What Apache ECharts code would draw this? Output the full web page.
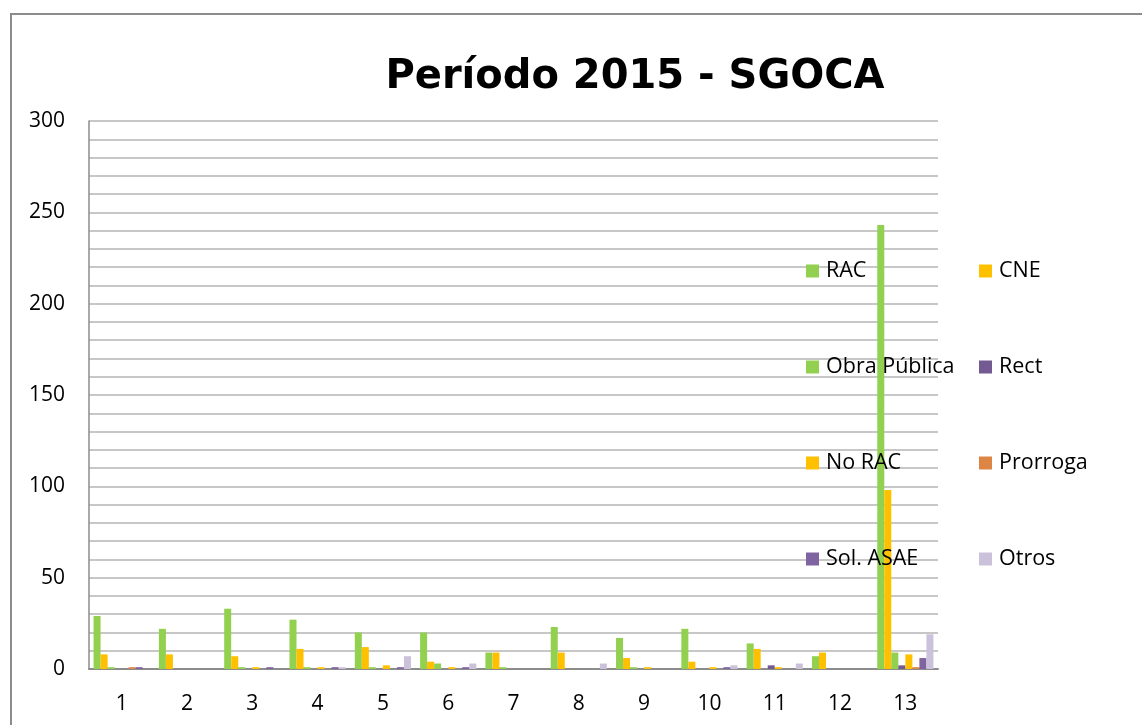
<!DOCTYPE html>
<html>
<head>
<meta charset="utf-8">
<script src="https://cdn.jsdelivr.net/npm/echarts@6/dist/echarts.min.js"></script>
<style>
html,body{margin:0;padding:0;background:#fff;}
#frame{position:absolute;left:10px;top:13px;width:1200px;height:800px;border-left:2px solid #8c8c8c;border-top:2px solid #8c8c8c;}
#chart{position:absolute;left:0;top:0;width:1142px;height:725px;}
</style>
</head>
<body>
<div id="frame"></div>
<div id="chart"></div>
<script>
const categories = ['1','2','3','4','5','6','7','8','9','10','11','12','13'];
const rac        = [29, 22, 33, 27, 20, 20, 9, 23, 17, 22, 14, 7, 243];
const cne        = [8, 8, 7, 11, 12, 4, 9, 9, 6, 4, 11, 9, 98];
const obraPublica= [1, 0, 1, 1, 1, 3, 1, 0, 1, 0, 0, 0, 9];
const rect       = [0, 0, 0, 0, 0, 0, 0, 0, 0, 0, 2, 0, 2];
const noRac      = [0, 0, 1, 1, 2, 1, 0, 0, 1, 1, 1, 0, 8];
const prorroga   = [1, 0, 0, 0, 0, 0, 0, 0, 0, 0, 0, 0, 1];
const solAsae    = [1, 0, 1, 1, 1, 1, 0, 0, 0, 1, 0, 0, 6];
const otros      = [0, 0, 0, 1, 7, 3, 0, 3, 0, 2, 3, 0, 19];
const yTicks = [0, 50, 100, 150, 200, 250, 300];

const seriesDefs = [
  ['RAC', rac, '#92D050'],
  ['CNE', cne, '#FFC000'],
  ['Obra Pública', obraPublica, '#92D050'],
  ['Rect', rect, '#745A93'],
  ['No RAC', noRac, '#FFC000'],
  ['Prorroga', prorroga, '#DD8544'],
  ['Sol. ASAE', solAsae, '#8064A2'],
  ['Otros', otros, '#CCC1DA']
];

const chart = echarts.init(document.getElementById('chart'), null, {renderer:'canvas'});
const font = '"Open Sans", "Liberation Sans", sans-serif';
const legendCommon = {
  orient: 'vertical',
  icon: 'rect',
  itemWidth: 13,
  itemHeight: 13,
  itemGap: 72,
  top: 259,
  padding: 0,
  selectedMode: false,
  textStyle: {fontFamily: font, fontSize: 21.5, color: '#000', lineHeight: 24, padding:[0,0,0,2]}
};
chart.setOption({
  animation: false,
  backgroundColor: 'transparent',
  title: {
    text: 'Período 2015 - SGOCA',
    left: 630, top: 53, textAlign: 'center',
    textStyle: {fontFamily: '"DejaVu Sans", sans-serif', fontWeight: 'bold', fontSize: 40, color: '#000'}
  },
  legend: [
    Object.assign({}, legendCommon, {left: 806, data: ['RAC','Obra Pública','No RAC','Sol. ASAE']}),
    Object.assign({}, legendCommon, {left: 979, data: ['CNE','Rect','Prorroga','Otros']})
  ],
  grid: {left: 89, right: 204, top: 121, bottom: 56, containLabel: false},
  xAxis: {
    type: 'category',
    data: categories,
    axisLine: {show: true, lineStyle: {color: '#8c8c8c', width: 2}},
    axisTick: {show: false},
    axisLabel: {fontFamily: font, fontSize: 21, color: '#000', margin: 25}
  },
  yAxis: {
    type: 'value',
    min: yTicks[0], max: yTicks[yTicks.length-1], interval: 50,
    axisLine: {show: true, lineStyle: {color: '#8c8c8c', width: 1.5}},
    axisTick: {show: false},
    axisLabel: {fontFamily: font, fontSize: 21, color: '#000', margin: 24},
    splitLine: {show: true, lineStyle: {color: '#b5b5b5', width: 1.5}},
    minorTick: {show: false, splitNumber: 5},
    minorSplitLine: {show: true, lineStyle: {color: '#b5b5b5', width: 1.5}}
  },
  series: seriesDefs.map(([name, data, color]) => ({
    name, type: 'bar', data,
    barGap: '0%', barCategoryGap: '14%',
    itemStyle: {color}
  }))
});
</script>
</body>
</html>
